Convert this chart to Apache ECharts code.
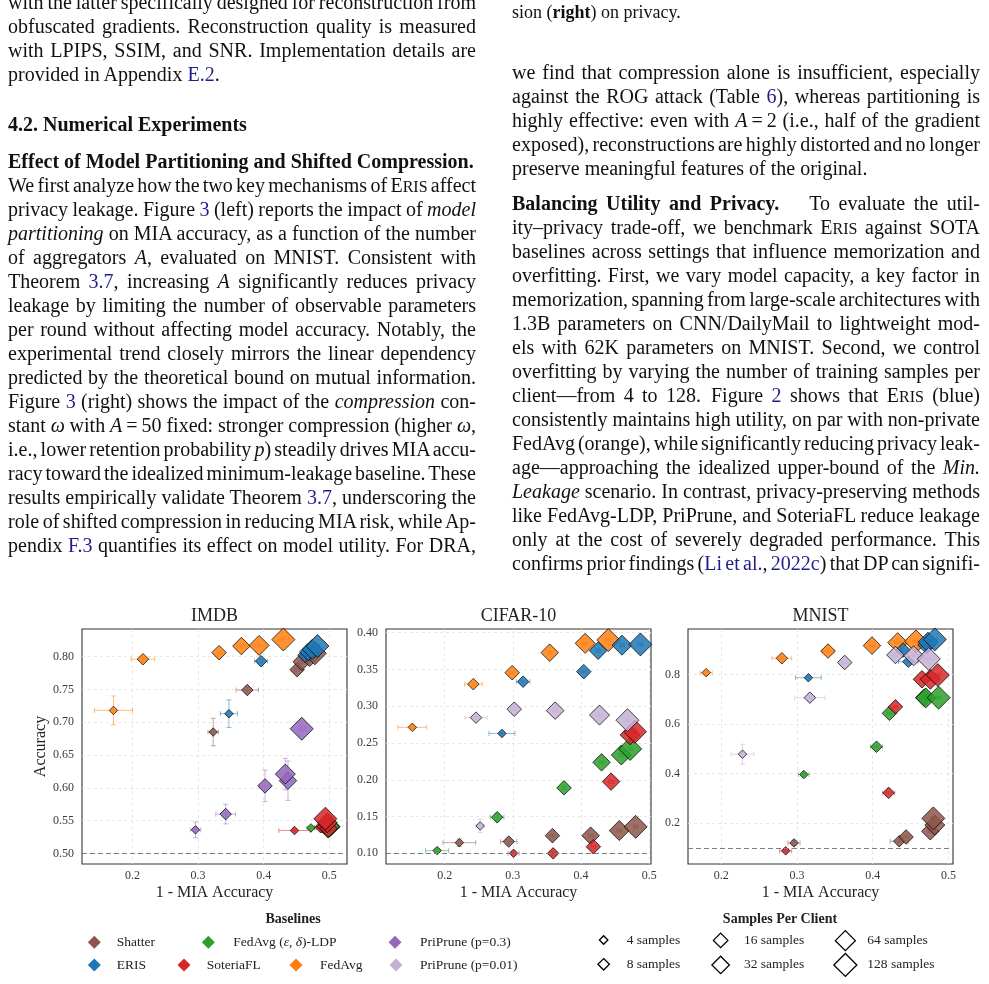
<!DOCTYPE html>
<html><head><meta charset="utf-8">
<script src="https://cdn.jsdelivr.net/npm/echarts@6/dist/echarts.min.js"></script>
<style>
html,body{margin:0;padding:0;background:#fff;width:989px;height:984px;overflow:hidden;position:relative;}
#chart{position:absolute;left:0;top:0;width:989px;height:984px;}
.t{position:absolute;font-family:'Liberation Serif','Times New Roman',serif;font-size:20px;line-height:24px;height:24px;white-space:nowrap;color:#111;}
.L{left:8px;} .R{left:512px;}
.ln{color:#1f1f8c;}
.sc{font-size:0.8em;}
</style></head>
<body>
<div id="chart"></div>
<script>
// ---------------- data ----------------
const sampleLabels = ['4 samples','8 samples','16 samples','32 samples','64 samples','128 samples'];
const markerSizes = [8.5, 11.5, 14.5, 17.5, 20, 23];
const xTicks = [0.2, 0.3, 0.4, 0.5];
const imdbYTicks = [0.50, 0.55, 0.60, 0.65, 0.70, 0.75, 0.80];
const cifarYTicks = [0.10, 0.15, 0.20, 0.25, 0.30, 0.35, 0.40];
const mnistYTicks = [0.2, 0.4, 0.6, 0.8];

// each point: [1 - MIA accuracy, accuracy, x error, y error], ordered 4..128 samples
const imdbShatter = [[0.323,0.685,0.008,0.021],[0.375,0.749,0.017,0.004],[0.451,0.780,0.004,0.003],[0.458,0.792,0.004,0.003],[0.470,0.800,0.004,0.003],[0.478,0.805,0.004,0.003]];
const imdbEris = [[0.347,0.713,0.013,0.021],[0.396,0.793,0.010,0.003],[0.463,0.802,0.004,0.003],[0.468,0.807,0.004,0.003],[0.474,0.811,0.003,0.003],[0.482,0.816,0.003,0.003]];
const imdbLdp = [[0.472,0.539,0.006,0.002],[0.490,0.540,0.012,0.002],[0.497,0.539,0.006,0.002],[0.503,0.541,0.004,0.002],[0.500,0.540,0.003,0.002],[0.498,0.541,0.003,0.002]];
const imdbSoteria = [[0.447,0.535,0.024,0.002],[0.487,0.540,0.006,0.002],[0.493,0.541,0.004,0.002],[0.499,0.538,0.004,0.002],[0.497,0.547,0.003,0.003],[0.494,0.553,0.003,0.003]];
const imdbPriprune03 = [[0.296,0.536,0.008,0.012],[0.342,0.560,0.015,0.015],[0.402,0.603,0.008,0.024],[0.437,0.611,0.005,0.030],[0.433,0.621,0.005,0.024],[0.458,0.690,0.005,0.004]];
const imdbFedavg = [[0.171,0.718,0.029,0.022],[0.216,0.796,0.018,0.003],[0.332,0.806,0.004,0.003],[0.366,0.816,0.006,0.003],[0.393,0.817,0.010,0.003],[0.430,0.826,0.008,0.003]];
const imdbPriprune001 = [];

const cifarShatter = [[0.2215,0.1145,0.024,0.005],[0.294,0.116,0.012,0.003],[0.358,0.124,0.004,0.002],[0.414,0.124,0.004,0.002],[0.456,0.131,0.003,0.002],[0.480,0.136,0.003,0.002]];
const cifarEris = [[0.284,0.263,0.019,0.002],[0.315,0.3334,0.010,0.002],[0.404,0.347,0.004,0.002],[0.425,0.3755,0.003,0.002],[0.460,0.383,0.003,0.002],[0.487,0.384,0.003,0.002]];
const cifarLdp = [[0.189,0.1037,0.017,0.002],[0.277,0.149,0.010,0.005],[0.375,0.189,0.003,0.002],[0.430,0.2237,0.003,0.002],[0.459,0.2337,0.003,0.002],[0.472,0.242,0.003,0.002]];
const cifarSoteria = [[0.301,0.100,0.008,0.002],[0.359,0.100,0.004,0.002],[0.418,0.109,0.003,0.002],[0.444,0.1975,0.004,0.002],[0.472,0.261,0.003,0.002],[0.479,0.2654,0.003,0.002]];
const cifarPriprune03 = [];
const cifarFedavg = [[0.1526,0.2713,0.021,0.002],[0.242,0.330,0.013,0.002],[0.299,0.3456,0.004,0.002],[0.354,0.3728,0.003,0.002],[0.406,0.3855,0.004,0.002],[0.440,0.390,0.004,0.002]];
const cifarPriprune001 = [[0.252,0.1372,0.006,0.009],[0.246,0.2845,0.016,0.002],[0.302,0.296,0.004,0.002],[0.362,0.294,0.004,0.002],[0.427,0.288,0.003,0.002],[0.468,0.281,0.003,0.002]];

const mnistShatter = [[0.296,0.120,0.008,0.010],[0.435,0.127,0.012,0.005],[0.444,0.144,0.004,0.005],[0.476,0.167,0.003,0.004],[0.482,0.192,0.003,0.004],[0.480,0.219,0.003,0.004]];
const mnistEris = [[0.315,0.7865,0.017,0.005],[0.447,0.851,0.013,0.006],[0.440,0.898,0.004,0.005],[0.471,0.918,0.003,0.004],[0.473,0.930,0.003,0.004],[0.482,0.941,0.003,0.004]];
const mnistLdp = [[0.309,0.396,0.007,0.006],[0.405,0.508,0.008,0.006],[0.422,0.643,0.003,0.005],[0.468,0.706,0.003,0.005],[0.470,0.705,0.003,0.005],[0.487,0.706,0.003,0.005]];
const mnistSoteria = [[0.285,0.088,0.008,0.006],[0.421,0.322,0.008,0.006],[0.430,0.669,0.003,0.005],[0.465,0.780,0.003,0.005],[0.476,0.780,0.003,0.005],[0.486,0.797,0.003,0.005]];
const mnistPriprune03 = [];
const mnistFedavg = [[0.180,0.807,0.008,0.005],[0.280,0.865,0.013,0.005],[0.341,0.894,0.008,0.005],[0.399,0.916,0.004,0.004],[0.433,0.928,0.004,0.004],[0.457,0.933,0.004,0.004]];
const mnistPriprune001 = [[0.228,0.478,0.015,0.040],[0.317,0.706,0.020,0.006],[0.363,0.848,0.006,0.005],[0.430,0.878,0.006,0.005],[0.454,0.875,0.006,0.005],[0.474,0.862,0.006,0.005]];

const datasetTitles = ['IMDB', 'CIFAR-10', 'MNIST'];
const minLeakage = [0.5, 0.1, 0.1];
const methodNames = ['Shatter','ERIS','FedAvg (ε, δ)-LDP','SoteriaFL','PriPrune (p=0.3)','FedAvg','PriPrune (p=0.01)'];
const methodColors = ['#8c564b','#1f77b4','#2ca02c','#d62728','#9467bd','#ff7f0e','#c5b0d5'];

// ---------------- layout ----------------
const FONT = "'Liberation Serif','Times New Roman',serif";
const panels = [
  {left:82, xMin:0.123, xMax:0.527, yMin:0.484, yMax:0.842, yTicks:imdbYTicks, yDec:2,
   data:[imdbShatter, imdbEris, imdbLdp, imdbSoteria, imdbPriprune03, imdbFedavg, imdbPriprune001]},
  {left:386, xMin:0.114, xMax:0.5025, yMin:0.0855, yMax:0.405, yTicks:cifarYTicks, yDec:2,
   data:[cifarShatter, cifarEris, cifarLdp, cifarSoteria, cifarPriprune03, cifarFedavg, cifarPriprune001]},
  {left:688, xMin:0.156, xMax:0.506, yMin:0.035, yMax:0.983, yTicks:mnistYTicks, yDec:1,
   data:[mnistShatter, mnistEris, mnistLdp, mnistSoteria, mnistPriprune03, mnistFedavg, mnistPriprune001]}
];
const PW = 265, PH = 235, PT = 629;
const drawOrder = [0, 5, 1, 2, 3, 4, 6];

function errRender(color){
  return function(params, api){
    const x = api.value(0), y = api.value(1), xe = api.value(2), ye = api.value(3);
    const L = api.coord([x - xe, y]), R = api.coord([x + xe, y]);
    const T = api.coord([x, y + ye]), B = api.coord([x, y - ye]);
    const cap = 2.5;
    const st = {stroke: color, lineWidth: 1, opacity: 0.5};
    return {type:'group', children:[
      {type:'line', shape:{x1:L[0],y1:L[1],x2:R[0],y2:R[1]}, style:st},
      {type:'line', shape:{x1:L[0],y1:L[1]-cap,x2:L[0],y2:L[1]+cap}, style:st},
      {type:'line', shape:{x1:R[0],y1:R[1]-cap,x2:R[0],y2:R[1]+cap}, style:st},
      {type:'line', shape:{x1:T[0],y1:T[1],x2:B[0],y2:B[1]}, style:st},
      {type:'line', shape:{x1:T[0]-cap,y1:T[1],x2:T[0]+cap,y2:T[1]}, style:st},
      {type:'line', shape:{x1:B[0]-cap,y1:B[1],x2:B[0]+cap,y2:B[1]}, style:st}
    ]};
  };
}

const grids = [], xAxes = [], yAxes = [], series = [], titles = [], legends = [];
const splitStyle = {color:'#e2e2e2', width:0.8, type:[3,3]};

panels.forEach((p, gi) => {
  grids.push({left:p.left, top:PT, width:PW, height:PH, show:true, borderColor:'#333', borderWidth:1.1, backgroundColor:'#fff'});
  titles.push({text:datasetTitles[gi], left:p.left + PW/2, top:607, textAlign:'center', padding:0,
    textStyle:{fontFamily:FONT, fontSize:18, fontWeight:'normal', color:'#222'}});
  xAxes.push({gridIndex:gi, type:'value', min:p.xMin, max:p.xMax,
    axisLine:{show:false}, axisTick:{show:false, customValues:xTicks},
    axisLabel:{customValues:xTicks, formatter:v => v.toFixed(1), color:'#3a3a3a', fontSize:12, fontFamily:FONT, margin:6},
    splitLine:{show:true, lineStyle:splitStyle},
    name:'1 - MIA Accuracy', nameLocation:'middle', nameGap:21,
    nameTextStyle:{fontFamily:FONT, fontSize:16, color:'#222'}});
  yAxes.push({gridIndex:gi, type:'value', min:p.yMin, max:p.yMax,
    axisLine:{show:false}, axisTick:{show:false, customValues:p.yTicks},
    axisLabel:{customValues:p.yTicks, formatter:v => v.toFixed(p.yDec), color:'#3a3a3a', fontSize:12, fontFamily:FONT, margin:8},
    splitLine:{show:true, lineStyle:splitStyle},
    name: gi === 0 ? 'Accuracy' : '', nameLocation:'middle', nameGap:33,
    nameTextStyle:{fontFamily:FONT, fontSize:16, color:'#222'}});
  drawOrder.forEach(m => {
    const arr = p.data[m];
    if (!arr.length) return;
    series.push({type:'custom', name:methodNames[m] + ' error', xAxisIndex:gi, yAxisIndex:gi, z:2, silent:true,
      encode:{x:0, y:1}, data:arr, renderItem:errRender(methodColors[m])});
  });
  drawOrder.forEach((m, k) => {
    const arr = p.data[m];
    if (!arr.length) return;
    const s = {type:'scatter', name:methodNames[m], xAxisIndex:gi, yAxisIndex:gi, z:3,
      symbol:'diamond', symbolSize:(v, prm) => markerSizes[prm.dataIndex],
      data:arr.map(d => [d[0], d[1]]),
      itemStyle:{color:methodColors[m], opacity:0.85, borderColor:'rgba(0,0,0,0.85)', borderWidth:1},
      emphasis:{disabled:true}};
    if (m === 0) {
      s.markLine = {symbol:'none', silent:true, label:{show:false},
        lineStyle:{type:[5,3], color:'#7f7f7f', width:1.2}, data:[{yAxis:minLeakage[gi]}]};
    }
    series.push(s);
  });
});

// dummy series for marker-size legend
sampleLabels.forEach(n => {
  series.push({type:'scatter', name:n, xAxisIndex:0, yAxisIndex:0, data:[], symbol:'diamond',
    itemStyle:{color:'rgba(255,255,255,0)', borderColor:'#000', borderWidth:1.3}});
});

const LEG_LH = 15;
function addLegend(name, cx, cy, size, textX, fill){
  const h = Math.max(size, LEG_LH);
  const pad = textX - (cx + size/2) - 5;
  const lg = {data:[name], left:cx - size/2, top:cy - h/2, padding:0, itemGap:0,
    itemWidth:size, itemHeight:size, icon:'diamond', selectedMode:false,
    textStyle:{fontFamily:FONT, fontSize:13.5, color:'#222', lineHeight:LEG_LH, padding:[0,0,0,pad],
      rich:{n:{fontFamily:FONT, fontSize:13.5, color:'#222', lineHeight:LEG_LH}, i:{fontFamily:FONT, fontSize:13.5, fontStyle:'italic', color:'#222', lineHeight:LEG_LH}}}};
  if (fill) lg.itemStyle = {borderWidth:0, opacity:1};
  else lg.itemStyle = {color:'rgba(255,255,255,0)', borderColor:'#000', borderWidth:1.3, opacity:1};
  if (name === 'FedAvg (ε, δ)-LDP') lg.formatter = () => '{n|FedAvg (}{i|ε}{n|, }{i|δ}{n|)-LDP}';
  legends.push(lg);
}
// baselines legend
addLegend('Shatter', 94.3, 942.3, 13, 116.7, true);
addLegend('FedAvg (ε, δ)-LDP', 208.3, 942.3, 13, 233.3, true);
addLegend('PriPrune (p=0.3)', 395, 942.3, 13, 420, true);
addLegend('ERIS', 94.3, 965, 13, 116.7, true);
addLegend('SoteriaFL', 184, 965, 13, 206.7, true);
addLegend('FedAvg', 296, 965, 13, 320, true);
addLegend('PriPrune (p=0.01)', 396, 965, 13, 420, true);
// samples legend
const sampCx = [603, 603, 720, 720, 844.7, 844.7];
const sampCy = [940, 964.3, 940, 964.3, 940, 964.3];
const sampTx = [626, 626, 743.3, 743.3, 866.7, 866.7];
sampleLabels.forEach((n, i) => addLegend(n, sampCx[i], sampCy[i], markerSizes[i], sampTx[i], false));

titles.push({text:'Baselines', left:293, top:912, textAlign:'center', padding:0,
  textStyle:{fontFamily:FONT, fontSize:14, fontWeight:'bold', color:'#222'}});
titles.push({text:'Samples Per Client', left:780, top:912, textAlign:'center', padding:0,
  textStyle:{fontFamily:FONT, fontSize:14, fontWeight:'bold', color:'#222'}});

const chart = echarts.init(document.getElementById('chart'), null, {renderer:'canvas'});
chart.setOption({
  backgroundColor:'#fff', animation:false,
  title:titles, legend:legends, grid:grids, xAxis:xAxes, yAxis:yAxes, series:series
});

// ---------------- surrounding paper text ----------------
const E = 'E<span class="sc">RIS</span>';
const textLines = [
 ['L', 8.3, 'with the latter specifically designed for reconstruction from', 1],
 ['L', 32.3, 'obfuscated gradients. Reconstruction quality is measured', 1],
 ['L', 56.3, 'with LPIPS, SSIM, and SNR. Implementation details are', 1],
 ['L', 80.3, 'provided in Appendix <span class="ln">E.2</span>.', 0],
 ['L', 131, '<b>4.2. Numerical Experiments</b>', 0],
 ['L', 167.7, '<b>Effect of Model Partitioning and Shifted Compression.</b>', 0],
 ['L', 191.7, 'We first analyze how the two key mechanisms of ' + E + ' affect', 1],
 ['L', 215.7, 'privacy leakage. Figure <span class="ln">3</span> (left) reports the impact of <i>model</i>', 1],
 ['L', 239.7, '<i>partitioning</i> on MIA accuracy, as a function of the number', 1],
 ['L', 263.7, 'of aggregators <i>A</i>, evaluated on MNIST. Consistent with', 1],
 ['L', 287.7, 'Theorem <span class="ln">3.7</span>, increasing <i>A</i> significantly reduces privacy', 1],
 ['L', 311.7, 'leakage by limiting the number of observable parameters', 1],
 ['L', 335.7, 'per round without affecting model accuracy. Notably, the', 1],
 ['L', 359.7, 'experimental trend closely mirrors the linear dependency', 1],
 ['L', 383.7, 'predicted by the theoretical bound on mutual information.', 1],
 ['L', 407.7, 'Figure <span class="ln">3</span> (right) shows the impact of the <i>compression</i> con-', 1],
 ['L', 431.7, 'stant <i>ω</i> with <i>A</i>&thinsp;=&thinsp;50 fixed: stronger compression (higher <i>ω</i>,', 1],
 ['L', 455.7, 'i.e., lower retention probability <i>p</i>) steadily drives MIA accu-', 1],
 ['L', 479.7, 'racy toward the idealized minimum-leakage baseline. These', 1],
 ['L', 503.7, 'results empirically validate Theorem <span class="ln">3.7</span>, underscoring the', 1],
 ['L', 527.7, 'role of shifted compression in reducing MIA risk, while Ap-', 1],
 ['L', 551.7, 'pendix <span class="ln">F.3</span> quantifies its effect on model utility. For DRA,', 1],
 ['R', 16.7, 'sion (<b>right</b>) on privacy.', 0, 18],
 ['R', 78.3, 'we find that compression alone is insufficient, especially', 1],
 ['R', 102.3, 'against the ROG attack (Table <span class="ln">6</span>), whereas partitioning is', 1],
 ['R', 126.3, 'highly effective: even with <i>A</i>&thinsp;=&thinsp;2 (i.e., half of the gradient', 1],
 ['R', 150.3, 'exposed), reconstructions are highly distorted and no longer', 1],
 ['R', 174.3, 'preserve meaningful features of the original.', 0],
 ['R', 209.3, '<b>Balancing Utility and Privacy.</b>&emsp;&ensp;To evaluate the util-', 1],
 ['R', 233.3, 'ity–privacy trade-off, we benchmark ' + E + ' against SOTA', 1],
 ['R', 257.3, 'baselines across settings that influence memorization and', 1],
 ['R', 281.3, 'overfitting. First, we vary model capacity, a key factor in', 1],
 ['R', 305.3, 'memorization, spanning from large-scale architectures with', 1],
 ['R', 329.3, '1.3B parameters on CNN/DailyMail to lightweight mod-', 1],
 ['R', 353.3, 'els with 62K parameters on MNIST. Second, we control', 1],
 ['R', 377.3, 'overfitting by varying the number of training samples per', 1],
 ['R', 401.3, 'client—from 4 to 128.&ensp;Figure <span class="ln">2</span> shows that ' + E + ' (blue)', 1],
 ['R', 425.3, 'consistently maintains high utility, on par with non-private', 1],
 ['R', 449.3, 'FedAvg (orange), while significantly reducing privacy leak-', 1],
 ['R', 473.3, 'age—approaching the idealized upper-bound of the <i>Min.</i>', 1],
 ['R', 497.3, '<i>Leakage</i> scenario. In contrast, privacy-preserving methods', 1],
 ['R', 521.3, 'like FedAvg-LDP, PriPrune, and SoteriaFL reduce leakage', 1],
 ['R', 545.3, 'only at the cost of severely degraded performance. This', 1],
 ['R', 569.3, 'confirms prior findings (<span class="ln">Li et al.</span>, <span class="ln">2022c</span>) that DP can signifi-', 1]
];
textLines.forEach(([col, base, html, just, fs]) => {
  const size = fs || 20;
  const d = document.createElement('div');
  d.className = 't ' + col;
  d.style.fontSize = size + 'px';
  d.style.top = (base - 18.8 * size / 20) + 'px';
  d.innerHTML = html;
  document.body.appendChild(d);
  if (just) {
    const w = d.getBoundingClientRect().width;
    const spaces = (d.textContent.match(/ /g) || []).length;
    if (spaces) d.style.wordSpacing = ((468 - w) / spaces) + 'px';
  }
});
</script>
</body></html>
